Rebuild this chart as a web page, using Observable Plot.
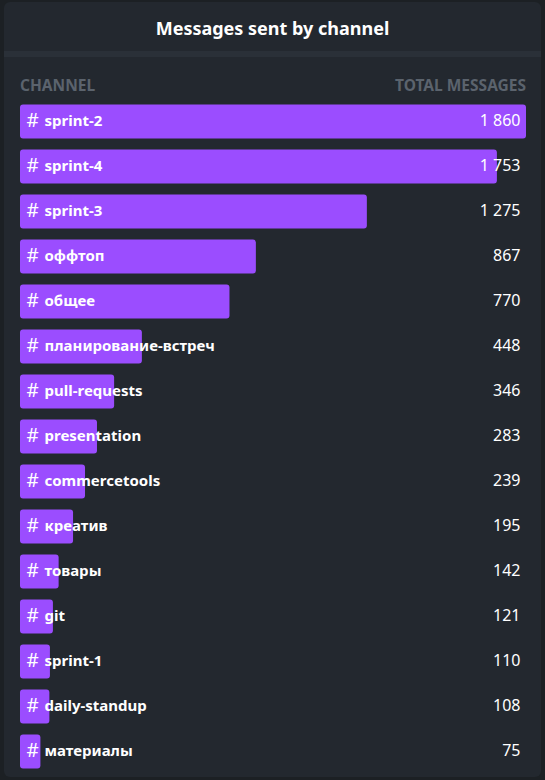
<!DOCTYPE html>
<html>
<head>
<meta charset="utf-8">
<script src="https://cdn.jsdelivr.net/npm/d3@7"></script>
<script src="https://cdn.jsdelivr.net/npm/@observablehq/plot@0.6"></script>
<style>
  html, body { margin: 0; padding: 0; }
  body { width: 545px; height: 780px; background: #1c2024; position: relative; overflow: hidden;
         font-family: "Noto Sans", "Open Sans", sans-serif; }
  #card { position: absolute; left: 4px; top: 2px; width: 537px; height: 775px; background: #23282f; border-radius: 6px; }
  #title { position: absolute; left: 0; top: 0; width: 545px; height: 50px; line-height: 56px; text-align: center;
           color: #ffffff; font-weight: 700; font-size: 18px; }
  #sep { position: absolute; left: 4px; top: 51px; width: 537px; height: 6px; background: #2a3038; }
  .hdr { position: absolute; top: 75px; color: #5b636d; font-weight: 700; font-size: 15.5px; line-height: 20px; }
  #chart { position: absolute; left: 0; top: 98.5px; }
</style>
</head>
<body>
<div id="card"></div>
<div id="title">Messages sent by channel</div>
<div id="sep"></div>
<div class="hdr" style="left:20px">CHANNEL</div>
<div class="hdr" style="right:19px">TOTAL MESSAGES</div>
<div id="chart"></div>
<script>
const channels = ["sprint-2", "sprint-4", "sprint-3", "оффтоп", "общее", "планирование-встреч", "pull-requests", "presentation", "commercetools", "креатив", "товары", "git", "sprint-1", "daily-standup", "материалы"];
const messages = [1860, 1753, 1275, 867, 770, 448, 346, 283, 239, 195, 142, 121, 110, 108, 75];

const data = channels.map((c, i) => ({channel: c, value: messages[i]}));
const fmt = d3.formatLocale({decimal: ".", thousands: " ", grouping: [3], currency: ["", ""]}).format(",d");

const chart = Plot.plot({
  width: 545,
  height: 675,
  marginLeft: 20,
  marginRight: 19,
  marginTop: 0,
  marginBottom: 0,
  style: {background: "transparent", fontFamily: "Noto Sans, Open Sans, sans-serif", overflow: "visible"},
  x: {domain: [0, 1860], axis: null},
  y: {domain: channels, padding: 0, axis: null},
  marks: [
    Plot.barX(data, {x: "value", y: "channel", fill: "#9b4dff", insetTop: 5.5, insetBottom: 5.5, rx: 3}),
    Plot.text(data, {y: "channel", text: () => "#", frameAnchor: "left", dx: 6, dy: -1, textAnchor: "start",
      fill: "#ffffff", fontSize: 19, fontWeight: 400}),
    Plot.text(data, {y: "channel", text: "channel", frameAnchor: "left", dx: 24, dy: -1, textAnchor: "start",
      fill: "#ffffff", fontSize: 15, fontWeight: 700}),
    Plot.text(data, {y: "channel", text: d => fmt(d.value), frameAnchor: "right", dx: -6, dy: -1, textAnchor: "end",
      fill: "#ffffff", fontSize: 16, fontWeight: 400})
  ]
});
document.getElementById("chart").appendChild(chart);
</script>
</body>
</html>
